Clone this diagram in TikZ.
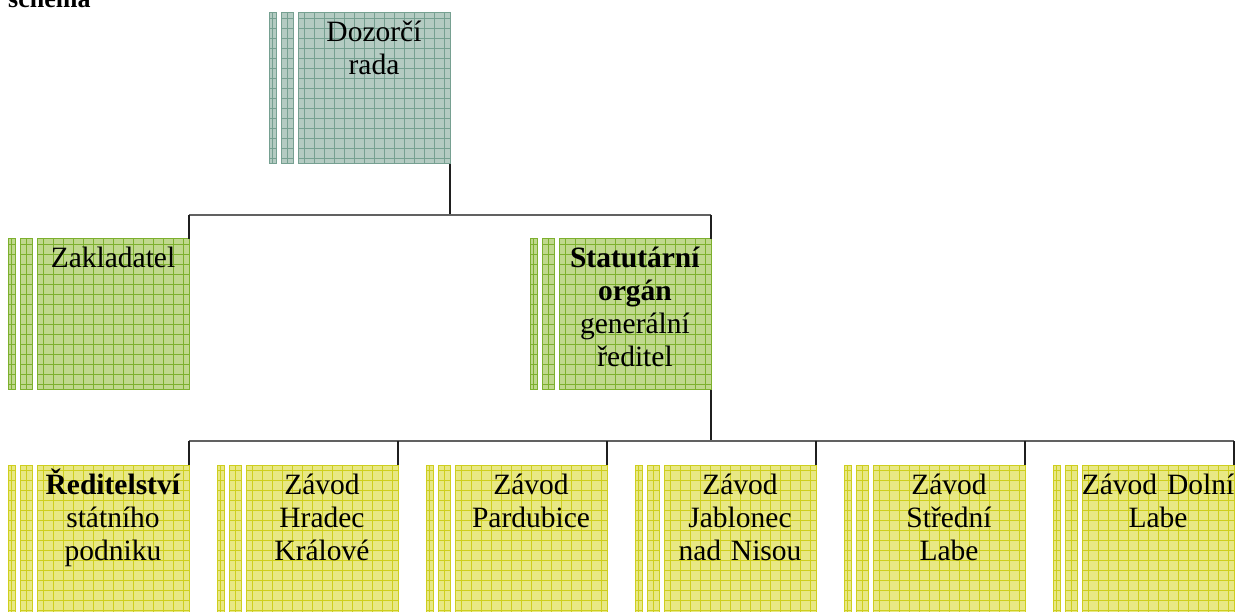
\documentclass[tikz,border=0pt]{standalone}
\usepackage{fontspec}
\setmainfont{Liberation Serif}
\definecolor{tealfill}{RGB}{180,203,194}
\definecolor{tealline}{RGB}{118,160,145}
\definecolor{greenfill}{RGB}{192,216,142}
\definecolor{greenline}{RGB}{125,176,46}
\definecolor{yelfill}{RGB}{232,232,132}
\definecolor{yelline}{RGB}{206,206,30}
\tikzset{
  boxbase/.style={inner sep=0pt, outer sep=0pt, line width=1pt, minimum height=151pt, anchor=north west},
  tealbox/.style={boxbase, fill=tealfill, draw=tealline,
    path picture={\draw[tealline,line width=0.9pt] (path picture bounding box.south west) grid[step=10pt] (path picture bounding box.north east);}},
  greenbox/.style={boxbase, fill=greenfill, draw=greenline,
    path picture={\draw[greenline,line width=0.9pt] (path picture bounding box.south west) grid[step=10pt] (path picture bounding box.north east);}},
  yelbox/.style={boxbase, fill=yelfill, draw=yelline,
    path picture={\draw[yelline,line width=0.9pt] (path picture bounding box.south west) grid[step=10pt] (path picture bounding box.north east);}},
  lbl/.style={inner sep=0pt, text width=170pt, align=center, anchor=base, font=\fontsize{29.5}{33}\selectfont},
  vconn/.style={draw=black!88, line width=2pt},
  hconn/.style={draw=black!62, line width=1.4pt},
}
\newcommand{\OrgBox}[5]{%
  \node[#4, minimum width=7pt] (#1-b1) at (#2-29,#3) {};
  \node[#4, minimum width=12pt] (#1-b2) at (#2-17,#3) {};
  \node[#4, minimum width=152pt] (#1) at (#2,#3) {};
  \node[lbl] (#1-t) at (#2+76,#3+29) {#5};
}
\begin{document}
\begin{tikzpicture}[x=1pt,y=-1pt]
\useasboundingbox (0,0) rectangle (1235,612);
\clip (0,0) rectangle (1235,612);
\node[inner sep=0pt, anchor=base west, font=\bfseries\fontsize{26}{30}\selectfont] (title) at (8,8) {schema};

\coordinate (j1) at (450,215);
\coordinate (j2) at (711,441);

\OrgBox{dozor}{298}{13}{tealbox}{Dozorčí\\rada}
\OrgBox{zakl}{37}{239}{greenbox}{Zakladatel}
\OrgBox{stat}{559}{239}{greenbox}{\textbf{Statutární}\\\textbf{orgán}\\generální\\ředitel}

\OrgBox{r1}{37}{465}{yelbox}{\textbf{Ředitelství}\\státního\\podniku}
\OrgBox{r2}{246}{465}{yelbox}{Závod\\Hradec\\Králové}
\OrgBox{r3}{455}{465}{yelbox}{Závod\\Pardubice}
\OrgBox{r4}{664}{465}{yelbox}{Závod\\Jablonec\\nad Nisou}
\OrgBox{r5}{873}{465}{yelbox}{Závod\\Střední\\Labe}
\OrgBox{r6}{1082}{465}{yelbox}{Závod Dolní\\Labe}

\draw[vconn] (dozor.south east) -- (j1);
\draw[hconn] (j1 -| zakl.north east) -- (j1 -| stat.north east);
\draw[vconn] (j1 -| zakl.north east) -- (zakl.north east);
\draw[vconn] (j1 -| stat.north east) -- (stat.north east);

\draw[vconn] (stat.south east) -- (j2);
\draw[hconn] (j2 -| r1.north east) -- (j2 -| r6.north east);
\foreach \r in {r1,r2,r3,r4,r5,r6}{
  \draw[vconn] (j2 -| \r.north east) -- (\r.north east);
}
\end{tikzpicture}
\end{document}
